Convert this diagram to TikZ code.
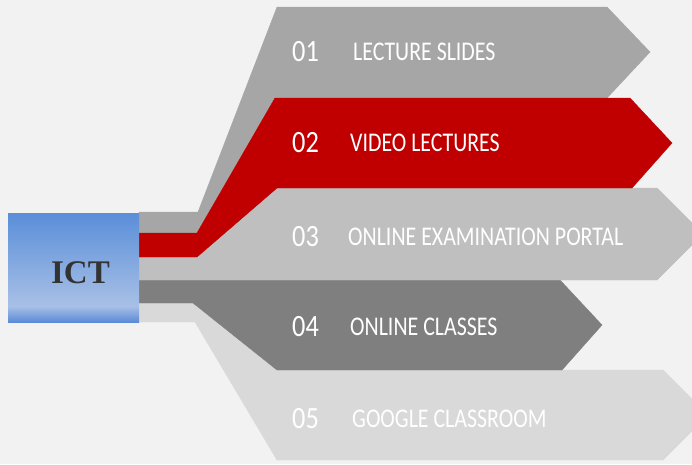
\documentclass[tikz,border=0pt]{standalone}
\usepackage{fontspec}
\usepackage{tikz}
\usetikzlibrary{calc}
\newfontfamily\bandfont[FakeStretch=0.81]{Carlito}
\newfontfamily\numfont[FakeStretch=0.85]{Carlito}
\newfontfamily\ictfont{Liberation Serif}
\definecolor{bg}{HTML}{F2F2F2}
\definecolor{bandA}{HTML}{A6A6A6}
\definecolor{bandB}{HTML}{C00000}
\definecolor{bandC}{HTML}{BFBFBF}
\definecolor{bandD}{HTML}{7F7F7F}
\definecolor{bandE}{HTML}{D9D9D9}
\definecolor{ictTop}{HTML}{5A8ED9}
\definecolor{ictMid}{HTML}{A8C0E6}
\definecolor{ictBot}{HTML}{5B8BD6}
\definecolor{ictText}{HTML}{333333}

\begin{document}
\begin{tikzpicture}[x=1pt,y=-1pt,
      band/.style={fill=#1,draw=#1,line width=0.4pt},
      numtext/.style={anchor=base west,inner sep=0,text=white,
        font=\numfont\fontsize{31}{31}\selectfont},
      bandtext/.style={anchor=base west,inner sep=0,text=white,
        font=\bandfont\fontsize{27}{27}\selectfont}]
      \fill[bg] (0,0) rectangle (692,464);
      \useasboundingbox (0,0) rectangle (692,464);

      \fill[band=bandE] (139,303) -- (193,303) -- (277,370) -- (663,370) -- (692,399)
        -- (692,431) -- (663,460) -- (277,460) -- (195,322) -- (139,322) -- cycle;
      \fill[band=bandD] (139,280) -- (560,280) -- (602,325) -- (562,370) -- (277,370)
        -- (193,303) -- (139,303) -- cycle;
      \fill[band=bandC] (139,257) -- (197,257) -- (277,188) -- (657,188) -- (692,223)
        -- (692,245) -- (657,280) -- (139,280) -- cycle;
      \fill[band=bandA] (139,212) -- (198,212) -- (277,7) -- (607,7) -- (650,52)
        -- (607,98) -- (275,98) -- (197,233) -- (139,233) -- cycle;
      \fill[band=bandB] (139,233) -- (197,233) -- (275,98) -- (630,98) -- (672,143)
        -- (632,188) -- (277,188) -- (197,257) -- (139,257) -- cycle;

      \shade[top color=ictTop,bottom color=ictMid] (8,213) rectangle (139,306);
      \shade[top color=ictMid,bottom color=ictBot] (8,306) rectangle (139,322);
      \node[anchor=base,inner sep=0,text=ictText,
        font=\ictfont\bfseries\fontsize{33}{33}\selectfont] (ict) at (80.5,283) {ICT};

      \node[numtext] (n1) at (292,61) {01};
      \node[numtext] (n2) at (292,152) {02};
      \node[numtext] (n3) at (292,246) {03};
      \node[numtext] (n4) at (292,336) {04};
      \node[numtext] (n5) at (292,428) {05};

      \node[bandtext] (t1) at (353,60) {LECTURE SLIDES};
      \node[bandtext] (t2) at (350,151) {VIDEO LECTURES};
      \node[bandtext] (t3) at (348,245) {ONLINE EXAMINATION PORTAL};
      \node[bandtext] (t4) at (350,335) {ONLINE CLASSES};
      \node[bandtext] (t5) at (352,427) {GOOGLE CLASSROOM};
\end{tikzpicture}
\end{document}
